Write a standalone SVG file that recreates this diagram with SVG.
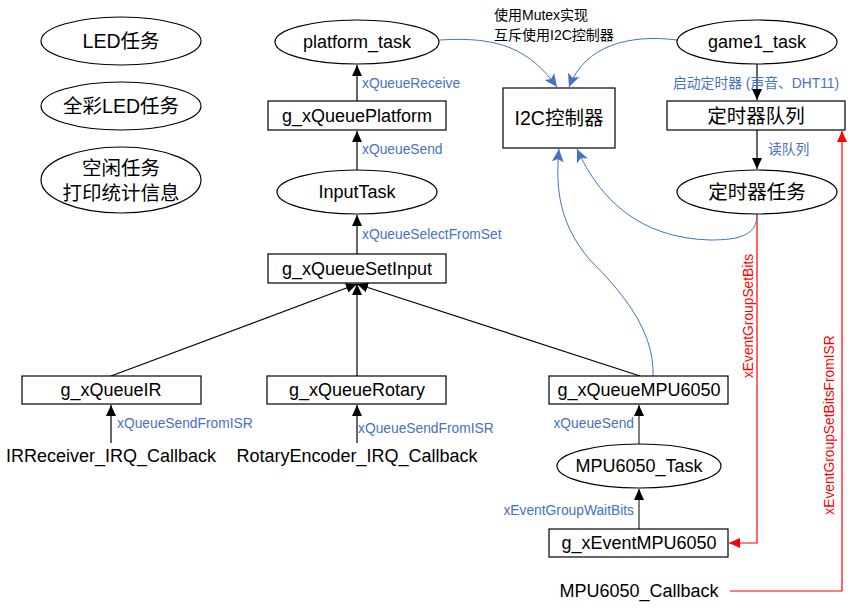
<svg xmlns="http://www.w3.org/2000/svg" width="866" height="614" viewBox="0 0 866 614">
<defs>
<style>
.n{fill:#fff;stroke:#000;stroke-width:1.2}
.t{font-family:"Liberation Sans","Noto Sans CJK SC",sans-serif;font-size:18px;fill:#000;text-anchor:middle;dominant-baseline:central}
.c{font-size:19.5px}
.b{font-family:"Liberation Sans","Noto Sans CJK SC",sans-serif;font-size:13.8px;fill:#4472C4}
.r{font-family:"Liberation Sans",sans-serif;font-size:13.8px;fill:#FF0000;text-anchor:middle;dominant-baseline:central}
.k{font-family:"Liberation Sans","Noto Sans CJK SC",sans-serif;font-size:14px;fill:#000}
.lk{stroke:#000;stroke-width:1.2;fill:none}
.lg{stroke:#7F7F7F;stroke-width:2;fill:none}
.lb{stroke:#4472C4;stroke-width:1;fill:none}
.lr{stroke:#FF0000;stroke-width:1.2;fill:none}
</style>
<marker id="ak" markerUnits="userSpaceOnUse" markerWidth="12" markerHeight="12" viewBox="0 0 12 12" refX="11" refY="6" orient="auto"><path d="M0,1 L11,6 L0,11 z" fill="#000"/></marker>
<marker id="ab" markerUnits="userSpaceOnUse" markerWidth="14" markerHeight="12" viewBox="0 0 14 12" refX="13" refY="6" orient="auto"><path d="M0,0 L13,6 L0,12 L3,6 z" fill="#4472C4"/></marker>
<marker id="ar" markerUnits="userSpaceOnUse" markerWidth="12" markerHeight="12" viewBox="0 0 12 12" refX="11" refY="6" orient="auto"><path d="M0,1 L11,6 L0,11 z" fill="#FF0000"/></marker>
</defs>

<g id="connectors">
<line class="lk" x1="357" y1="101" x2="357" y2="65" marker-end="url(#ak)"/>
<line class="lk" x1="357" y1="170" x2="357" y2="131" marker-end="url(#ak)"/>
<line class="lk" x1="357" y1="254" x2="357" y2="215" marker-end="url(#ak)"/>
<line class="lk" x1="111" y1="376" x2="357" y2="284" marker-end="url(#ak)"/>
<line class="lk" x1="357" y1="376" x2="357" y2="284" marker-end="url(#ak)"/>
<line class="lk" x1="640" y1="376" x2="357" y2="284" marker-end="url(#ak)"/>
<line class="lk" x1="111" y1="443" x2="111" y2="405" marker-end="url(#ak)"/>
<line class="lk" x1="357" y1="443" x2="357" y2="405" marker-end="url(#ak)"/>
<line class="lg" x1="639" y1="444" x2="639" y2="405" marker-end="url(#ak)"/>
<line class="lg" x1="639" y1="529" x2="639" y2="489" marker-end="url(#ak)"/>
<line class="lk" x1="757" y1="64" x2="757" y2="100" marker-end="url(#ak)"/>
<line class="lk" x1="757" y1="130" x2="757" y2="169" marker-end="url(#ak)"/>
<path class="lr" d="M757,214 L757,543 L729,543" marker-end="url(#ar)"/>
<path class="lr" d="M730,591 L842,591 L842,131" marker-end="url(#ar)"/>
<path class="lb" d="M440,40 C500,36 530,50 557,87" marker-end="url(#ab)"/>
<path class="lb" d="M677,40 C630,34 585,45 569,87" marker-end="url(#ab)"/>
<path class="lb" d="M757,215 C757,235 740,240 710,240 C640,238 600,200 577,149" marker-end="url(#ab)"/>
<path class="lb" d="M653,376 C655,330 620,290 590,260 C560,225 555,190 559,149" marker-end="url(#ab)"/>
</g>

<g id="labels">
<text class="b" x="362" y="88">xQueueReceive</text>
<text class="b" x="362" y="154">xQueueSend</text>
<text class="b" x="362" y="239">xQueueSelectFromSet</text>
<text class="b" x="117" y="428">xQueueSendFromISR</text>
<text class="b" x="358" y="433">xQueueSendFromISR</text>
<text class="b" x="634" y="428" text-anchor="end">xQueueSend</text>
<text class="b" x="634" y="515" text-anchor="end">xEventGroupWaitBits</text>
<text class="b" x="673" y="88">启动定时器 (声音、DHT11)</text>
<text class="b" x="768" y="154">读队列</text>
<text class="r" transform="translate(748,316) rotate(-90)">xEventGroupSetBits</text>
<text class="r" transform="translate(829,425) rotate(-90)">xEventGroupSetBitsFromISR</text>
<text class="k" x="494" y="20">使用Mutex实现</text>
<text class="k" x="494" y="40">互斥使用I2C控制器</text>
</g>

<g id="led"><ellipse class="n" cx="121" cy="41" rx="80" ry="24"/><text class="t c" x="121" y="41">LED任务</text></g>
<g id="rgbled"><ellipse class="n" cx="121" cy="106" rx="80" ry="24"/><text class="t c" x="121" y="106">全彩LED任务</text></g>
<g id="idle"><ellipse class="n" cx="121" cy="180" rx="80" ry="33"/><text class="t c" x="121" y="168">空闲任务</text><text class="t c" x="121" y="193">打印统计信息</text></g>
<g id="platform_task"><ellipse class="n" cx="357" cy="42" rx="82" ry="22"/><text class="t" x="357" y="42">platform_task</text></g>
<g id="g_xQueuePlatform"><rect class="n" x="268" y="101" width="178" height="29"/><text class="t" x="357" y="116">g_xQueuePlatform</text></g>
<g id="InputTask"><ellipse class="n" cx="357" cy="192" rx="80" ry="22"/><text class="t" x="357" y="192">InputTask</text></g>
<g id="g_xQueueSetInput"><rect class="n" x="268" y="254" width="178" height="29"/><text class="t" x="357" y="269">g_xQueueSetInput</text></g>
<g id="g_xQueueIR"><rect class="n" x="22" y="376" width="179" height="28"/><text class="t" x="111" y="390">g_xQueueIR</text></g>
<g id="g_xQueueRotary"><rect class="n" x="267" y="376" width="179" height="28"/><text class="t" x="357" y="390">g_xQueueRotary</text></g>
<g id="g_xQueueMPU6050"><rect class="n" x="549" y="376" width="179" height="28"/><text class="t" x="639" y="390">g_xQueueMPU6050</text></g>
<g id="MPU6050_Task"><ellipse class="n" cx="639" cy="466" rx="82" ry="22"/><text class="t" x="639" y="466">MPU6050_Task</text></g>
<g id="g_xEventMPU6050"><rect class="n" x="549" y="529" width="179" height="28"/><text class="t" x="639" y="543">g_xEventMPU6050</text></g>
<g id="IRReceiver_IRQ_Callback"><text class="t" x="111" y="456">IRReceiver_IRQ_Callback</text></g>
<g id="RotaryEncoder_IRQ_Callback"><text class="t" x="357" y="456">RotaryEncoder_IRQ_Callback</text></g>
<g id="MPU6050_Callback"><text class="t" x="639" y="591">MPU6050_Callback</text></g>
<g id="I2C"><rect class="n" x="503" y="88" width="112" height="60"/><text class="t c" x="559" y="118">I2C控制器</text></g>
<g id="game1_task"><ellipse class="n" cx="757" cy="42" rx="80" ry="22"/><text class="t" x="757" y="42">game1_task</text></g>
<g id="timer_queue"><rect class="n" x="667" y="101" width="178" height="29"/><text class="t c" x="756" y="116">定时器队列</text></g>
<g id="timer_task"><ellipse class="n" cx="757" cy="192" rx="80" ry="22"/><text class="t c" x="757" y="192">定时器任务</text></g>
</svg>
